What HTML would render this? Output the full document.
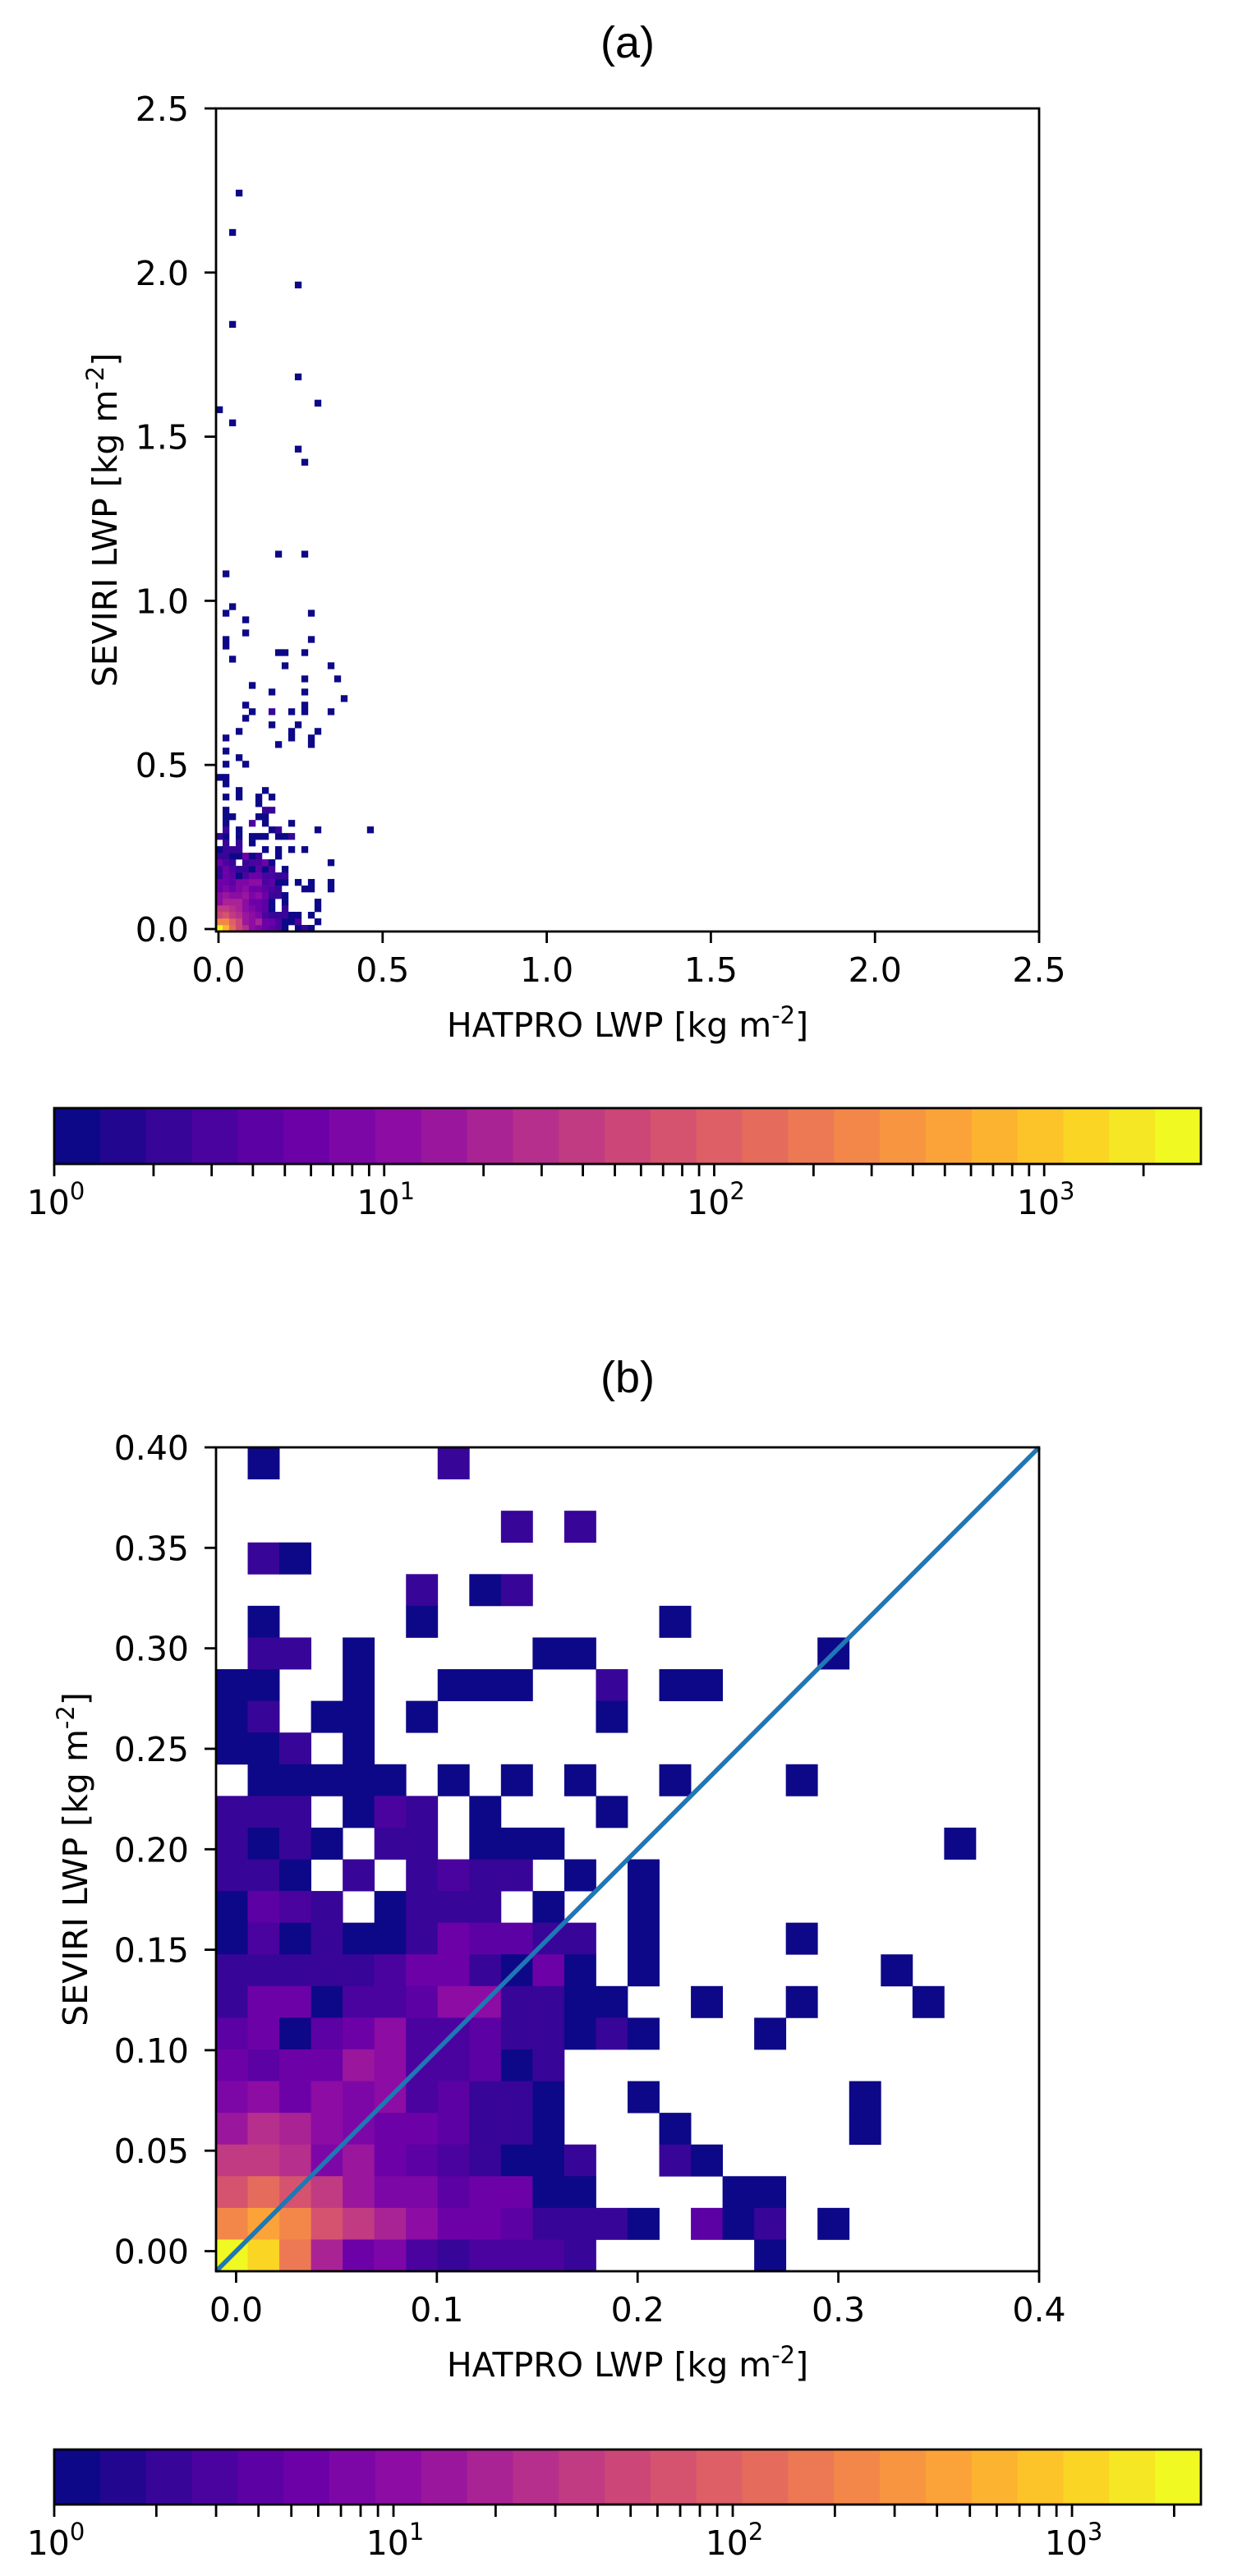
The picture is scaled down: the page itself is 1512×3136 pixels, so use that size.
<!DOCTYPE html>
<html><head><meta charset="utf-8"><style>
html,body{margin:0;padding:0;background:#fff;}
svg{display:block;font-family:"DejaVu Sans","Liberation Sans",sans-serif;}
</style></head><body>
<svg id="fig" xmlns="http://www.w3.org/2000/svg" width="1512" height="3136" viewBox="0 0 1512 3136">
<rect width="1512" height="3136" fill="#fff"/>
<g id="pa"></g>
<g id="pb"></g>
</svg>
<script>
// ---------- Panel (b) data: log10(count) per cell, rows top (0.40) -> bottom ----------
const bRows=[
[null,0,null,null,null,null,null,0.3],
[],
[null,null,null,null,null,null,null,null,null,0.3,null,0.3],
[null,0.3,0],
[null,null,null,null,null,null,0.3,null,0,0.3],
[null,0,null,null,null,null,0,null,null,null,null,null,null,null,0],
[null,0.3,0.3,null,0,null,null,null,null,null,0,0,null,null,null,null,null,null,null,0],
[0,0,null,null,0,null,null,0,0,0,null,null,0.3,null,0,0],
[0,0.4,null,0,0,null,0,null,null,null,null,null,0],
[0,0,0.3,null,0],
[null,0,0,0,0,0,null,0,null,0,null,0,null,null,0,null,null,null,0],
[0.3,0.3,0.3,null,0,0.5,0.3,null,0,null,null,null,0],
[0.3,0,0.3,0,null,0.4,0.3,null,0,0,0,null,null,null,null,null,null,null,null,null,null,null,null,0],
[0.4,0.4,0,null,0.3,null,0.3,0.5,0.3,0.4,null,0,null,0],
[0,0.6,0.5,0.3,null,0,0.3,0.3,0.3,null,0,null,null,0],
[0,0.5,0,0.4,0,0,0.4,0.8,0.6,0.6,0.3,0.3,null,0,null,null,null,null,0],
[0.4,0.4,0.4,0.3,0.3,0.5,0.8,0.8,0.3,0,0.7,0,null,0,null,null,null,null,null,null,null,0],
[0.3,0.7,0.8,0,0.5,0.5,0.6,1.0,1.0,0.3,0.4,0,0,null,null,0,null,null,0,null,null,null,0],
[0.6,0.7,0,0.6,0.7,1.0,0.5,0.5,0.6,0.4,0.4,0,0.3,0,null,null,null,0],
[0.7,0.6,0.8,0.7,1.2,1.0,0.5,0.5,0.6,0,0.3],
[0.9,1.0,0.8,1.0,0.9,1.0,0.5,0.6,0.3,0.3,0,null,null,0,null,null,null,null,null,null,0],
[1.1,1.4,1.3,1.0,0.9,0.8,0.8,0.6,0.3,0.4,0,null,null,null,0,null,null,null,null,null,0],
[1.5,1.6,1.4,0.9,1.1,0.7,0.6,0.5,0.4,0,0,0.3,null,null,0.3,0],
[1.8,2.1,1.8,1.6,1.2,0.9,0.9,0.6,0.8,0.7,0,0,null,null,null,null,0,0],
[2.3,2.6,2.3,1.8,1.6,1.3,1.0,0.8,0.8,0.6,0.3,0.3,0.3,0,null,0.6,0,0.3,null,0],
[3.4,3.1,2.2,1.3,0.8,0.9,0.5,0.4,0.5,0.5,0.5,0.4,null,null,null,null,null,0]
];
const bTicks=[0.0,0.1,0.2,0.3,0.4];
const bTickLabels=["0.0","0.1","0.2","0.3","0.4"];
const bYTicks=[0.00,0.05,0.10,0.15,0.20,0.25,0.30,0.35,0.40];
const bYTickLabels=["0.00","0.05","0.10","0.15","0.20","0.25","0.30","0.35","0.40"];
const bLine=[-0.01,0.4];

// ---------- Panel (a) data ----------
const aDenseRows=[
[3.4,2.9,2.2,1.8,1.4,1.1,0.9,0.7,0.6,0.5,0,null,0,0.3,0],
[2.4,2.4,2.0,1.8,1.2,1.1,1.3,0.8,0.7,0.5,0,0,0.5,null,null,0],
[1.8,1.9,1.6,1.5,1.2,1.0,0.9,0.5,0.4,0.3,0.3,0,0,null,0],
[1.6,1.6,1.5,1.3,1.1,0.9,0.8,0.6,0,null,0.4,null,null,null,null,0],
[1.1,1.3,1.3,1.3,1.1,0.8,0.7,0.6,0,null,0,null,null,null,null,0],
[1.0,1.2,1.0,1.1,1.2,0.9,1.0,0.7,0.3,0.4,0],
[0.8,0.9,0.8,0.9,1.0,0.8,0.7,0.6,0.5,0.4,null,null,null,0,0,null,null,0],
[0.8,0.8,0.6,0.9,0.9,1.0,1.1,0.5,0.6,0,0,null,0,null,0,null,null,0],
[0.3,0.7,0.6,0,0.5,0.8,0.8,0.5,0.5,0.4,0.3],
[0.4,0.8,0.5,0.4,0.4,0,0.6,0,0.5,null,0],
[0.7,0.5,0.4,null,0.4,0.5,0.5,0.7,0,null,null,null,null,null,null,null,null,0],
[0.4,0.4,0,0,0.8,0,0.4,null,null,0],
[0,0.3,0.3,0.3,null,null,null,0,null,0,null,0,null,0],
[null,0.4,null,0.4,null,0],
[0.4,0,null,0,null,0,0,0,null,0,0,0.4],
[null,0.4,null,0,null,null,null,null,0,0.4,null,null,null,null,null,0,null,null,null,null,null,null,null,0],
[null,0,null,null,null,0.5,null,0,null,null,null,0],
[null,0,0,null,null,null,0,0],
[null,0,null,null,null,null,null,0.4,0.4],
[null,null,null,null,null,null,0],
[null,0,null,0,null,null,0,null,0],
[null,null,null,0,null,null,null,0],
[null,0]
];
const aSparseCells=[
[3,112,0],[2,106,0],[12,98,0],[2,92,0],[12,84,0],[15,80,0],[0,79,0],[2,77,0],[12,73,0],[13,71,0],
[9,57,0],[13,57,0],[1,54,0],[2,49,0],[1,48,0],[14,48,0],[4,47,0],[4,45,0],[1,44,0],[1,43,0],[14,44,0],
[9,42,0],[10,42,0],[13,42,0],[2,41,0],[10,40,0],[17,40,0],[13,38,0],[18,38,0],[5,37,0],[8,36,0],[13,36,0],
[19,35,0],[4,34,0],[5,33,0],[8,33,0.3],[11,33,0],[13,34,0],[13,33,0],[17,33,0],[4,32,0],[8,31,0],[12,31,0],
[11,30,0],[11,29,0],[3,30,0],[15,30,0],[14,29,0],[14,28,0],[9,28,0],[1,29,0],[1,27,0],[3,26,0],[1,25,0],
[4,25,0],[0,23,0],[1,23,0]
];
const aTicks=[0.0,0.5,1.0,1.5,2.0,2.5];
const aTickLabels=["0.0","0.5","1.0","1.5","2.0","2.5"];

const cbDecades=[0,1,2,3];
const cbA_max=3.475, cbB_max=3.38, cbLevels=25;

// ---------- helpers ----------
const NS="http://www.w3.org/2000/svg";
const plasmaStops=["#0d0887","#41049d","#6a00a8","#8f0da4","#b12a90","#cc4778","#e16462","#f2844b","#fca636","#fcce25","#f0f921"];
function hex(h){return [parseInt(h.substr(1,2),16),parseInt(h.substr(3,2),16),parseInt(h.substr(5,2),16)];}
function plasma(t){t=Math.max(0,Math.min(1,t));const f=t*10,i=Math.min(9,Math.floor(f)),u=f-i;const a=hex(plasmaStops[i]),b=hex(plasmaStops[i+1]);
return "rgb("+a.map((v,k)=>Math.round(v+(b[k]-v)*u)).join(",")+")";}
function levelColor(lg,vmax){let i=Math.floor(lg/vmax*cbLevels);if(i>cbLevels-1)i=cbLevels-1;if(i<0)i=0;return plasma(i/(cbLevels-1));}
function mk(tag,attrs,parent){const e=document.createElementNS(NS,tag);for(const k in attrs)e.setAttribute(k,attrs[k]);parent.appendChild(e);return e;}
function txt(parent,x,y,s,size,anchor){const t=mk("text",{x:x,y:y,"font-size":size,"text-anchor":anchor||"middle",fill:"#000"},parent);t.textContent=s;return t;}

function drawAxes(g,L,T,R,B,xt,xl,xs,yt,yl,ys,title,titleY,ylabX){
  const box=mk("rect",{x:L,y:T,width:R-L,height:B-T,fill:"none",stroke:"#000","stroke-width":2.8},g);
  
  
  xt.forEach((v,i)=>{const x=xs(v);
    const tk=mk("line",{x1:x,y1:B,x2:x,y2:B+14,stroke:"#000","stroke-width":2.8},g);
    
    
    const t=txt(g,x,B+61,xl[i],41);
    
    });
  yt.forEach((v,i)=>{const y=ys(v);
    const tk=mk("line",{x1:L-14,y1:y,x2:L,y2:y,stroke:"#000","stroke-width":2.8},g);
    
    
    const t=txt(g,L-33,y+15,yl[i],41,"end");
    
    });
  const cx=(L+R)/2, cy=(T+B)/2;
  const xlab=mk("text",{x:cx,y:B+128,"font-size":41,"text-anchor":"middle"},g);
  xlab.innerHTML='HATPRO LWP [kg m<tspan dy="-16" font-size="29">-2</tspan><tspan dy="16">]</tspan>';
  
  
  const ylab=mk("text",{x:0,y:0,"font-size":41,"text-anchor":"middle",transform:"translate("+ylabX+","+cy+") rotate(-90)"},g);
  ylab.innerHTML='SEVIRI LWP [kg m<tspan dy="-16" font-size="29">-2</tspan><tspan dy="16">]</tspan>';
  
  
  const tt=mk("text",{x:cx,y:titleY,"font-size":54,"text-anchor":"middle","font-family":"Liberation Sans, sans-serif"},g);
  tt.textContent=title;
  
  
}

function drawColorbar(g,L,R,T,B,vmax){
  const cbs=(R-L)/vmax; const cx=lg=>L+lg*cbs;
  const w=(R-L)/cbLevels;
  for(let i=0;i<cbLevels;i++){
    const r=mk("rect",{x:L+i*w,y:T,width:w+0.6,height:B-T,fill:plasma(i/(cbLevels-1))},g);
    
    
  }
  const fr=mk("rect",{x:L,y:T,width:R-L,height:B-T,fill:"none",stroke:"#000","stroke-width":2.8},g);
  
  
  cbDecades.forEach(d=>{
    for(let m=1;m<10;m++){const lg=d+Math.log10(m); if(lg>vmax)break;
      const x=cx(lg);
      const tk=mk("line",{x1:x,y1:B,x2:x,y2:B+15,stroke:"#000","stroke-width":2.8},g);
      
      }
    const t=mk("text",{x:cx(d)+2,y:B+61,"font-size":41,"text-anchor":"middle"},g);
    t.innerHTML='10<tspan dy="-18" font-size="29">'+d+'</tspan>';
    
    
  });
}

// ---------- Panel (a) ----------
(function(){
  const g=document.getElementById('pa');
  const L=263,R=1265,T=132,B=1134,min=-0.0075,max=2.5;
  const xs=v=>L+(v-min)/(max-min)*(R-L), ys=v=>B-(v-min)/(max-min)*(B-T);
  const bw=0.02;
  const cells=[];
  aDenseRows.forEach((row,r)=>row.forEach((v,c)=>{if(v!==null&&v!==undefined)cells.push([c,r,v]);}));
  aSparseCells.forEach(s=>cells.push(s));
  cells.forEach(([c,r,v])=>{
    const x0=xs(min+c*bw),x1=xs(min+(c+1)*bw),y0=ys(min+(r+1)*bw),y1=ys(min+r*bw);
    const e=mk("rect",{x:x0,y:y0,width:x1-x0+0.3,height:y1-y0+0.3,fill:levelColor(v,cbA_max)},g);
    
    
  });
  drawAxes(g,L,T,R,B,aTicks,aTickLabels,xs,aTicks,aTickLabels,ys,"(a)",70,142);
  const cb=mk("g",{},g);
  
  
  drawColorbar(cb,66,1462,1349,1417,cbA_max);
})();

// ---------- Panel (b) ----------
(function(){
  const g=document.getElementById('pb');
  const L=263,R=1265,T=1762,B=2765,min=-0.01,max=0.4;
  const xs=v=>L+(v-min)/(max-min)*(R-L), ys=v=>B-(v-min)/(max-min)*(B-T);
  const n=bRows.length, bw=(max-min)/n;
  bRows.forEach((row,r)=>row.forEach((v,c)=>{
    if(v===null||v===undefined)return;
    const rb=n-1-r;
    const x0=xs(min+c*bw),x1=xs(min+(c+1)*bw),y0=ys(min+(rb+1)*bw),y1=ys(min+rb*bw);
    const e=mk("rect",{x:x0,y:y0,width:x1-x0+0.4,height:y1-y0+0.4,fill:levelColor(v,cbB_max)},g);
    
    
  }));
  const ln=mk("line",{x1:xs(bLine[0]),y1:ys(bLine[0]),x2:xs(bLine[1]),y2:ys(bLine[1]),stroke:"#1f77b4","stroke-width":5.5},g);
  
  
  drawAxes(g,L,T,R,B,bTicks,bTickLabels,xs,bYTicks,bYTickLabels,ys,"(b)",1695,106);
  const cb=mk("g",{},g);
  
  
  drawColorbar(cb,66,1462,2982,3049,cbB_max);
})();
</script>
</body></html>
